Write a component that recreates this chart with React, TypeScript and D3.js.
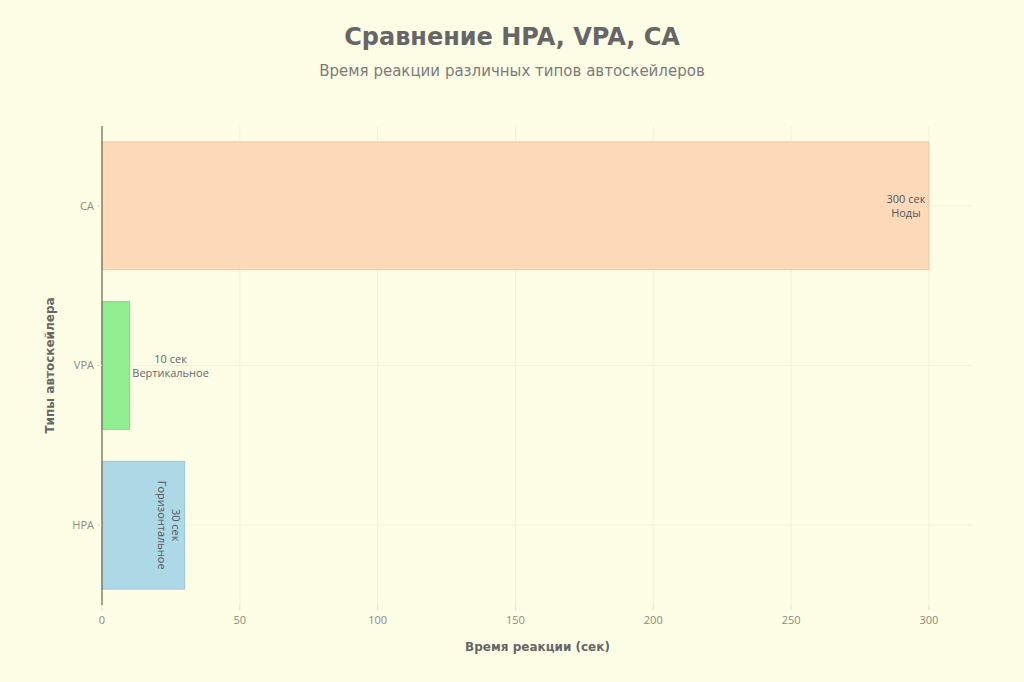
import React from "react";
import * as d3 from "d3";

const categories = ["HPA", "VPA", "CA"];
const values = [30, 10, 300];
const descriptions = ["Горизонтальное", "Вертикальное", "Ноды"];
const barColors = ["#add8e6", "#90ee90", "#ffdab9"];
const barStrokes = ["#9ec3cf", "#86d886", "#ecc6a6"];
const xTicks = [0, 50, 100, 150, 200, 250, 300];

const W = 1024;
const H = 682;
const M = { left: 102, right: 973, top: 126, bottom: 605 };
const BG = "#fefee6";
const TEXT = "#666666";
const SANS = "'Open Sans', 'DejaVu Sans', sans-serif";

export default function App() {
  const x = d3.scaleLinear().domain([0, 316]).range([M.left, M.right]);
  const y = d3
    .scaleBand<string>()
    .domain(categories.slice().reverse())
    .range([M.top, M.bottom])
    .paddingInner(0.2)
    .paddingOuter(0.1);

  return (
    <svg
      width={W}
      height={H}
      style={{ position: "absolute", left: 0, top: 0, background: BG }}
    >
      <rect x={0} y={0} width={W} height={H} fill={BG} />
      <text
        x={512}
        y={45}
        textAnchor="middle"
        fontFamily="'DejaVu Sans', sans-serif"
        fontWeight="bold"
        fontSize={24}
        fill={TEXT}
      >
        Сравнение HPA, VPA, CA
      </text>
      <text
        x={512}
        y={76}
        textAnchor="middle"
        fontFamily="'DejaVu Sans', sans-serif"
        fontSize={15}
        fill="#7a7a7a"
      >
        Время реакции различных типов автоскейлеров
      </text>

      {/* grid */}
      {xTicks.map((t) => (
        <line
          key={"gx" + t}
          x1={x(t)}
          x2={x(t)}
          y1={M.top}
          y2={M.bottom}
          stroke="#f2f2dc"
          strokeWidth={1}
        />
      ))}
      {categories.map((c) => (
        <line
          key={"gy" + c}
          x1={M.left}
          x2={M.right}
          y1={(y(c) as number) + y.bandwidth() / 2}
          y2={(y(c) as number) + y.bandwidth() / 2}
          stroke="#f2f2dc"
          strokeWidth={1}
        />
      ))}

      {/* bars */}
      {categories.map((c, i) => (
        <rect
          key={"b" + c}
          x={x(0)}
          y={y(c) as number}
          width={x(values[i]) - x(0)}
          height={y.bandwidth()}
          fill={barColors[i]}
          stroke={barStrokes[i]}
          strokeWidth={1}
        />
      ))}

      {/* bar labels */}
      {categories.map((c, i) => {
        const cy = (y(c) as number) + y.bandwidth() / 2;
        const v = values[i];
        const line1 = `${v} сек`;
        const line2 = descriptions[i];
        if (c === "CA") {
          return (
            <text
              key={"l" + c}
              x={x(v) - 23}
              y={cy}
              textAnchor="middle"
              fontFamily={SANS}
              fontSize={11}
              fill="#555"
            >
              <tspan x={x(v) - 23} dy={-3}>{line1}</tspan>
              <tspan x={x(v) - 23} dy={14}>{line2}</tspan>
            </text>
          );
        }
        if (c === "VPA") {
          const cx = x(v) + 41;
          return (
            <text
              key={"l" + c}
              x={cx}
              y={cy}
              textAnchor="middle"
              fontFamily={SANS}
              fontSize={11}
              fill="#666"
            >
              <tspan x={cx} dy={-3}>{line1}</tspan>
              <tspan x={cx} dy={14}>{line2}</tspan>
            </text>
          );
        }
        const cx = x(v) - 16;
        return (
          <g key={"l" + c} transform={`translate(${cx},${cy}) rotate(90)`}>
            <text
              x={0}
              y={0}
              textAnchor="middle"
              fontFamily={SANS}
              fontSize={11}
              fill="#555"
            >
              <tspan x={0} dy={-3}>{line1}</tspan>
              <tspan x={0} dy={14}>{line2}</tspan>
            </text>
          </g>
        );
      })}

      {/* y axis */}
      <line
        x1={M.left}
        x2={M.left}
        y1={M.top}
        y2={M.bottom}
        stroke="#6b6b55"
        strokeWidth={1.2}
      />
      {categories.map((c) => {
        const cy = (y(c) as number) + y.bandwidth() / 2;
        return (
          <g key={"yt" + c}>
            <line x1={M.left - 5} x2={M.left} y1={cy} y2={cy} stroke="#e0e0cc" />
            <text
              x={M.left - 8}
              y={cy}
              dy="0.35em"
              textAnchor="end"
              fontFamily={SANS}
              fontSize={11}
              fill="#8a8a80"
            >
              {c}
            </text>
          </g>
        );
      })}

      {/* x ticks */}
      {xTicks.map((t) => (
        <g key={"xt" + t}>
          <line
            x1={x(t)}
            x2={x(t)}
            y1={M.bottom}
            y2={M.bottom + 5}
            stroke="#e0e0cc"
          />
          <text
            x={x(t)}
            y={M.bottom + 19}
            textAnchor="middle"
            fontFamily={SANS}
            fontSize={11}
            fill="#8a8a80"
          >
            {t}
          </text>
        </g>
      ))}

      <text
        x={(M.left + M.right) / 2}
        y={651}
        textAnchor="middle"
        fontFamily="'DejaVu Sans', sans-serif"
        fontWeight="bold"
        fontSize={12}
        fill={TEXT}
      >
        Время реакции (сек)
      </text>
      <text
        transform={`translate(54,${(M.top + M.bottom) / 2}) rotate(-90)`}
        textAnchor="middle"
        fontFamily="'DejaVu Sans', sans-serif"
        fontWeight="bold"
        fontSize={12}
        fill={TEXT}
      >
        Типы автоскейлера
      </text>
    </svg>
  );
}
